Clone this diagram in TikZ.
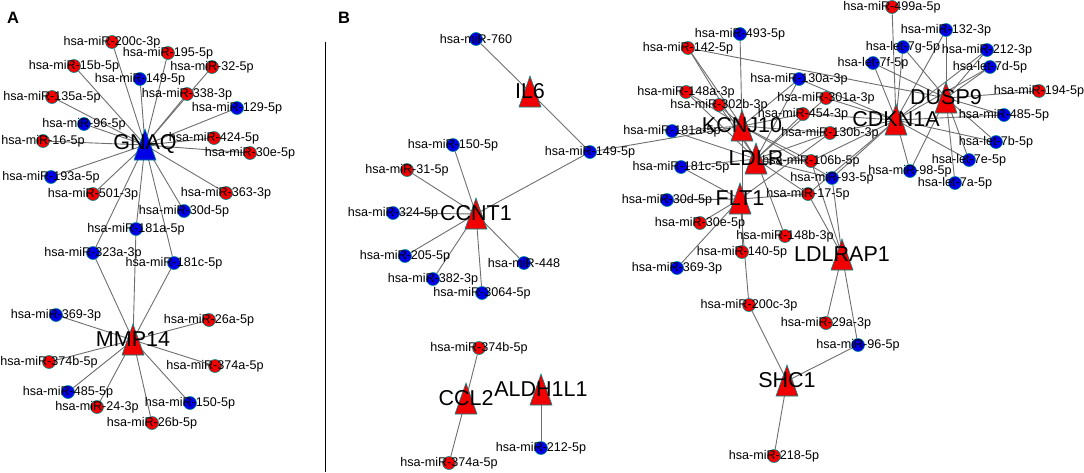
\documentclass[tikz,border=0pt]{standalone}
\usepackage{fontspec}
\setmainfont{Liberation Sans}
\usetikzlibrary{backgrounds,calc}

\definecolor{mirred}{RGB}{240,0,0}
\definecolor{mirblue}{RGB}{0,0,230}
\definecolor{rim}{RGB}{0,140,140}
\definecolor{linkgray}{RGB}{110,110,110}

\tikzset{
  mir/.style={circle, draw=rim, line width=0.6pt, minimum size=13pt, inner sep=0pt},
  redmir/.style={mir, fill=mirred},
  bluemir/.style={mir, fill=mirblue},
  mirtext/.style={font=\fontsize{12.6}{14}\selectfont, inner sep=0pt},
  genetext/.style={font=\fontsize{21.5}{24}\selectfont, inner sep=0pt},
  link/.style={draw=linkgray, line width=0.9pt},
  panel/.style={font=\fontsize{16.5}{18}\selectfont\bfseries},
}

% gene: name, position, text, fill
\newcommand{\genetri}[4]{%
  \coordinate (#1) at (#2);
  \filldraw[draw=rim, line width=0.6pt, fill=#4] ($(#1)+(0,-16)$) -- ($(#1)+(11,15)$) -- ($(#1)+(-11,15)$) -- cycle;
  \node[genetext] (#1-txt) at ($(#1)+(0,-1)$) {#3};
}

\begin{document}
\begin{tikzpicture}[x=1pt, y=-1pt]
  \useasboundingbox (0,0) rectangle (1084,472);

  \node[panel] (pA) at (13,18) {A};
  \node[panel] (pB) at (344,18) {B};
  \draw[line width=0.8pt] (325,42) -- (325,472);

  % panel A
  \node[redmir, label={[mirtext]center:hsa-miR-200c-3p}] (A200c3p) at (112,42) {};
  \node[redmir, label={[mirtext]center:hsa-miR-195-5p}] (A1955p) at (168,53) {};
  \node[redmir, label={[mirtext]center:hsa-miR-15b-5p}] (A15b5p) at (74,66) {};
  \node[redmir, label={[mirtext]center:hsa-miR-32-5p}] (A325p) at (212,67) {};
  \node[bluemir, label={[mirtext]center:hsa-miR-149-5p}] (A1495p) at (140,79) {};
  \node[redmir, label={[mirtext]center:hsa-miR-135a-5p}] (A135a5p) at (52,97) {};
  \node[redmir, label={[mirtext]center:hsa-miR-338-3p}] (A3383p) at (187,94) {};
  \node[bluemir, label={[mirtext]center:hsa-miR-129-5p}] (A1295p) at (237,108) {};
  \node[bluemir, label={[mirtext]center:hsa-miR-96-5p}] (A965p) at (84,124) {};
  \node[redmir, label={[mirtext]center:hsa-miR-16-5p}] (A165p) at (43,141) {};
  \node[redmir, label={[mirtext]center:hsa-miR-424-5p}] (A4245p) at (214,138) {};
  \node[redmir, label={[mirtext]center:hsa-miR-30e-5p}] (A30e5p) at (250,153) {};
  \node[bluemir, label={[mirtext]center:hsa-miR-193a-5p}] (A193a5p) at (51,177) {};
  \node[redmir, label={[mirtext]center:hsa-miR-501-3p}] (A5013p) at (93,194) {};
  \node[redmir, label={[mirtext]center:hsa-miR-363-3p}] (A3633p) at (226,193) {};
  \node[bluemir, label={[mirtext]center:hsa-miR-30d-5p}] (A30d5p) at (184,211) {};
  \node[bluemir, label={[mirtext]center:hsa-miR-181a-5p}] (A181a5p) at (136,229) {};
  \node[bluemir, label={[mirtext]center:hsa-miR-323a-3p}] (A323a3p) at (93,253) {};
  \node[bluemir, label={[mirtext]center:hsa-miR-181c-5p}] (A181c5p) at (174,263) {};
  \node[bluemir, label={[mirtext]center:hsa-miR-369-3p}] (A3693p) at (56,315) {};
  \node[redmir, label={[mirtext]center:hsa-miR-26a-5p}] (A26a5p) at (209,320) {};
  \node[redmir, label={[mirtext]center:hsa-miR-374b-5p}] (A374b5p) at (49,362) {};
  \node[redmir, label={[mirtext]center:hsa-miR-374a-5p}] (A374a5p) at (215,366) {};
  \node[bluemir, label={[mirtext]center:hsa-miR-485-5p}] (A4855p) at (68,392) {};
  \node[redmir, label={[mirtext]center:hsa-miR-24-3p}] (A243p) at (97,407) {};
  \node[bluemir, label={[mirtext]center:hsa-miR-150-5p}] (A1505p) at (190,403) {};
  \node[redmir, label={[mirtext]center:hsa-miR-26b-5p}] (A26b5p) at (152,423) {};

  \genetri{GNAQ}{145,145}{GNAQ}{mirblue}
  \genetri{MMP14}{133,340}{MMP14}{mirred}

  % panel B
  \node[bluemir, label={[mirtext]center:hsa-miR-760}] (B760) at (476,39) {};
  \node[bluemir, label={[mirtext]center:hsa-miR-150-5p}] (B1505p) at (453,145) {};
  \node[bluemir, label={[mirtext]center:hsa-miR-149-5p}] (B1495p) at (590,152) {};
  \node[redmir, label={[mirtext]center:hsa-miR-31-5p}] (B315p) at (407,170) {};
  \node[bluemir, label={[mirtext]center:hsa-miR-324-5p}] (B3245p) at (393,213) {};
  \node[bluemir, label={[mirtext]center:hsa-miR-205-5p}] (B2055p) at (405,256) {};
  \node[bluemir, label={[mirtext]center:hsa-miR-448}] (B448) at (524,263) {};
  \node[bluemir, label={[mirtext]center:hsa-miR-382-3p}] (B3823p) at (433,279) {};
  \node[bluemir, label={[mirtext]center:hsa-miR-3064-5p}] (B30645p) at (482,293) {};
  \node[redmir, label={[mirtext]center:hsa-miR-374b-5p}] (B374b5p) at (479,348) {};
  \node[redmir, label={[mirtext]center:hsa-miR-374a-5p}] (B374a5p) at (449,463) {};
  \node[bluemir, label={[mirtext]center:hsa-miR-212-5p}] (B2125p) at (541,448) {};

  \node[bluemir, label={[mirtext]center:hsa-miR-493-5p}] (B4935p) at (740,34) {};
  \node[redmir, label={[mirtext]center:hsa-miR-142-5p}] (B1425p) at (688,48) {};
  \node[bluemir, label={[mirtext]center:hsa-miR-130a-3p}] (B130a3p) at (799,79) {};
  \node[redmir, label={[mirtext]center:hsa-miR-148a-3p}] (B148a3p) at (686,92) {};
  \node[redmir, label={[mirtext]center:hsa-miR-301a-3p}] (B301a3p) at (826,98) {};
  \node[redmir, label={[mirtext]center:hsa-miR-302b-3p}] (B302b3p) at (719,105) {};
  \node[redmir, label={[mirtext]center:hsa-miR-454-3p}] (B4543p) at (803,114) {};
  \node[bluemir, label={[mirtext]center:hsa-miR-181a-5p}] (B181a5p) at (672,131) {};
  \node[redmir, label={[mirtext]center:hsa-miR-130b-3p}] (B130b3p) at (830,133) {};
  \node[redmir, label={[mirtext]center:hsa-miR-106b-5p}] (B106b5p) at (811,161) {};
  \node[bluemir, label={[mirtext]center:hsa-miR-181c-5p}] (B181c5p) at (681,167) {};
  \node[bluemir, label={[mirtext]center:hsa-miR-93-5p}] (B935p) at (832,178) {};
  \node[bluemir, label={[mirtext]center:hsa-miR-30d-5p}] (B30d5p) at (667,200) {};
  \node[redmir, label={[mirtext]center:hsa-miR-17-5p}] (B175p) at (808,194) {};
  \node[redmir, label={[mirtext]center:hsa-miR-30e-5p}] (B30e5p) at (700,223) {};
  \node[redmir, label={[mirtext]center:hsa-miR-148b-3p}] (B148b3p) at (785,236) {};
  \node[redmir, label={[mirtext]center:hsa-miR-140-5p}] (B1405p) at (742,252) {};
  \node[bluemir, label={[mirtext]center:hsa-miR-369-3p}] (B3693p) at (677,268) {};
  \node[redmir, label={[mirtext]center:hsa-miR-200c-3p}] (B200c3p) at (749,305) {};
  \node[redmir, label={[mirtext]center:hsa-miR-29a-3p}] (B29a3p) at (826,323) {};
  \node[bluemir, label={[mirtext]center:hsa-miR-96-5p}] (B965p) at (858,345) {};
  \node[redmir, label={[mirtext]center:hsa-miR-218-5p}] (B2185p) at (774,456) {};

  \node[redmir, label={[mirtext]center:hsa-miR-499a-5p}] (B499a5p) at (892,7) {};
  \node[bluemir, label={[mirtext]center:hsa-miR-132-3p}] (B1323p) at (946,30) {};
  \node[bluemir, label={[mirtext]center:hsa-let-7g-5p}] (Blet7g5p) at (903,47) {};
  \node[bluemir, label={[mirtext]center:hsa-miR-212-3p}] (B2123p) at (987,50) {};
  \node[bluemir, label={[mirtext]center:hsa-let-7f-5p}] (Blet7f5p) at (873,63) {};
  \node[bluemir, label={[mirtext]center:hsa-let-7d-5p}] (Blet7d5p) at (990,67) {};
  \node[redmir, label={[mirtext]center:hsa-miR-194-5p}] (B1945p) at (1039,91) {};
  \node[bluemir, label={[mirtext]center:hsa-miR-485-5p}] (B4855p) at (1004,115) {};
  \node[bluemir, label={[mirtext]center:hsa-let-7b-5p}] (Blet7b5p) at (996,142) {};
  \node[bluemir, label={[mirtext]center:hsa-let-7e-5p}] (Blet7e5p) at (969,160) {};
  \node[bluemir, label={[mirtext]center:hsa-miR-98-5p}] (B985p) at (910,171) {};
  \node[bluemir, label={[mirtext]center:hsa-let-7a-5p}] (Blet7a5p) at (955,183) {};

  \genetri{IL6}{530,92}{IL6}{mirred}
  \genetri{CCNT1}{476,214}{CCNT1}{mirred}
  \genetri{CCL2}{466,399}{CCL2}{mirred}
  \genetri{ALDH1L1}{541,390}{ALDH1L1}{mirred}
  \genetri{KCNJ10}{742,126}{KCNJ10}{mirred}
  \genetri{LDLR}{756,159}{LDLR}{mirred}
  \genetri{FLT1}{740,199}{FLT1}{mirred}
  \genetri{CDKN1A}{896,120}{CDKN1A}{mirred}
  \genetri{DUSP9}{946,98}{DUSP9}{mirred}
  \genetri{LDLRAP1}{842,255}{LDLRAP1}{mirred}
  \genetri{SHC1}{787,381}{SHC1}{mirred}

  \begin{scope}[on background layer]
    \foreach \m in {A200c3p,A1955p,A15b5p,A325p,A1495p,A135a5p,A3383p,A1295p,A965p,A165p,A4245p,A30e5p,A193a5p,A5013p,A3633p,A30d5p,A181a5p,A323a3p,A181c5p}
      \draw[link] (\m) -- (GNAQ);
    \foreach \m in {A323a3p,A181a5p,A181c5p,A3693p,A26a5p,A374b5p,A374a5p,A4855p,A243p,A1505p,A26b5p}
      \draw[link] (\m) -- (MMP14);
    \foreach \m in {B760,B1495p}
      \draw[link] (\m) -- (IL6);
    \foreach \m in {B1495p,B1505p,B315p,B3245p,B2055p,B3823p,B30645p,B448}
      \draw[link] (\m) -- (CCNT1);
    \foreach \m in {B374b5p,B374a5p}
      \draw[link] (\m) -- (CCL2);
    \draw[link] (B2125p) -- (ALDH1L1);
    \foreach \m in {B200c3p,B965p,B2185p}
      \draw[link] (\m) -- (SHC1);
    \foreach \m in {B175p,B935p,B106b5p,B29a3p,B965p}
      \draw[link] (\m) -- (LDLRAP1);
    \foreach \m in {B1495p,B4935p,B1425p,B148a3p,B302b3p,B181a5p,B130a3p,B4543p,B130b3p,B106b5p,B935p,B1405p}
      \draw[link] (\m) -- (KCNJ10);
    \foreach \m in {B302b3p,B148a3p,B181a5p,B181c5p,B130a3p,B4543p,B130b3p,B106b5p,B935p,B175p,B148b3p,B1425p,B301a3p}
      \draw[link] (\m) -- (LDLR);
    \foreach \m in {B181c5p,B30d5p,B30e5p,B3693p,B200c3p,B175p,B130b3p}
      \draw[link] (\m) -- (FLT1);
    \foreach \m in {B130a3p,B301a3p,B4543p,B130b3p,B106b5p,B935p,B175p,B499a5p,Blet7g5p,Blet7f5p,B1323p,B2123p,Blet7d5p,B4855p,Blet7b5p,Blet7e5p,B985p}
      \draw[link] (\m) -- (CDKN1A);
    \foreach \m in {B1323p,B2123p,Blet7d5p,B1945p,Blet7b5p,Blet7e5p,Blet7a5p,B985p,Blet7g5p,Blet7f5p,B1425p,B4855p}
      \draw[link] (\m) -- (DUSP9);
  \end{scope}
\end{tikzpicture}
\end{document}
